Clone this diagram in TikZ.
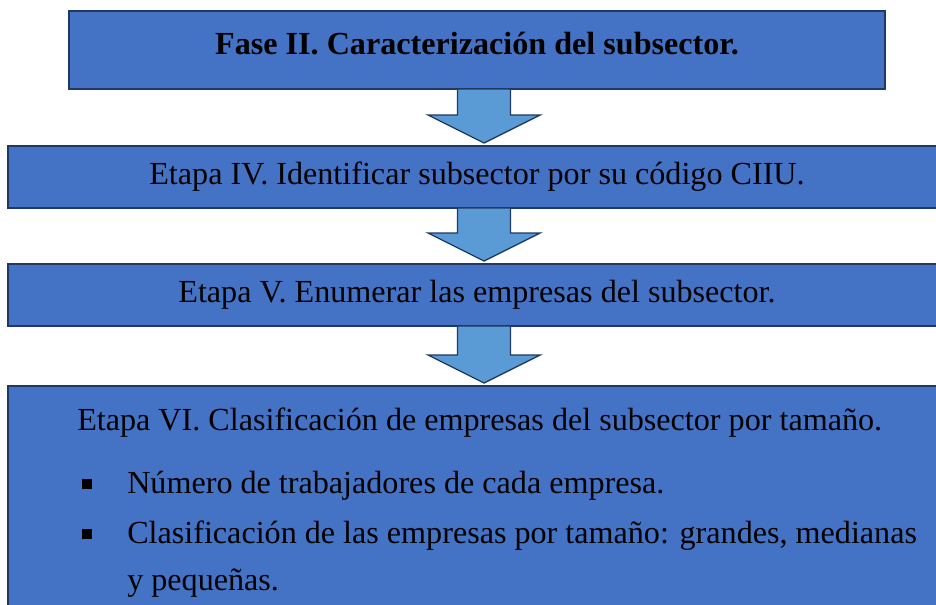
\documentclass[tikz,border=0pt]{standalone}
\usepackage{fontspec}
\setmainfont{Liberation Serif}
\usetikzlibrary{calc}
\definecolor{azulcaja}{HTML}{4472C4}
\definecolor{azulflecha}{HTML}{5B9BD5}
\definecolor{borde}{HTML}{1F3864}

\begin{document}
\begin{tikzpicture}[
  x=0.75pt, y=-0.75pt,
  % Estilo general de las cajas
  caja/.style={draw=borde, fill=azulcaja, line width=1.5pt, rectangle, anchor=north west,
    inner sep=0pt, outer sep=0pt, font=\fontsize{24.1}{29}\selectfont},
  % Estilos para la fase y las etapas
  cajafase/.style={caja, minimum width=612pt, minimum height=58.5pt,
    text height=16pt, text depth=10pt, font=\fontsize{24.1}{29}\selectfont\bfseries},
  cajaetapa/.style={caja, minimum width=703.5pt, minimum height=46.5pt},
  % Flechas de bloque y textos de la ultima etapa
  flecha/.style={draw=borde, fill=azulflecha, line width=1pt, line join=miter},
  texto/.style={anchor=base west, inner sep=0pt, font=\fontsize{24.1}{35.25}\selectfont},
  bala/.style={fill=black, rectangle, minimum size=7.5pt, inner sep=0pt}
]
  \useasboundingbox (0,0) rectangle (936,604);
  \clip (0,0) rectangle (936,604);

  % Cajas
  \node[cajafase] (fase) at (69,11) {Fase II. Caracterización del subsector.};
  \node[cajaetapa] (e4) at (8,146) {Etapa IV. Identificar subsector por su código CIIU.};
  \node[cajaetapa] (e5) at (8,264) {Etapa V. Enumerar las empresas del subsector.};
  \node[caja, minimum width=703.5pt, minimum height=180pt] (e6) at (8,386) {};

  % Flechas entre cajas
  \foreach \a/\b in {fase/e4, e4/e5, e5/e6}
    \draw[flecha] let \p1=($(\a.south)+(7,0)$), \p2=(\b.north) in
      (\x1-19.9pt,\y1) -- (\x1-19.9pt,\y2+23.25pt) -- (\x1-42pt,\y2+23.25pt)
      -- (\x1,\y2+2.25pt) -- (\x1+42pt,\y2+23.25pt) -- (\x1+19.9pt,\y2+23.25pt)
      -- (\x1+19.9pt,\y1) -- cycle;

  % Contenido de la etapa VI
  \node[texto] (t6) at (77,430) {Etapa VI. Clasificación de empresas del subsector por tamaño.};
  \node[bala] (b1) at (87,484) {};
  \node[texto] (i1) at (127,493) {Número de trabajadores de cada empresa.};
  \node[bala] (b2) at (87,534) {};
  % la linea base es la de la ultima linea
  \node[texto, align=left] (i2) at (127,590) {Clasificación de las empresas por tamaño: grandes, medianas\\y pequeñas.};

\end{tikzpicture}
\end{document}
